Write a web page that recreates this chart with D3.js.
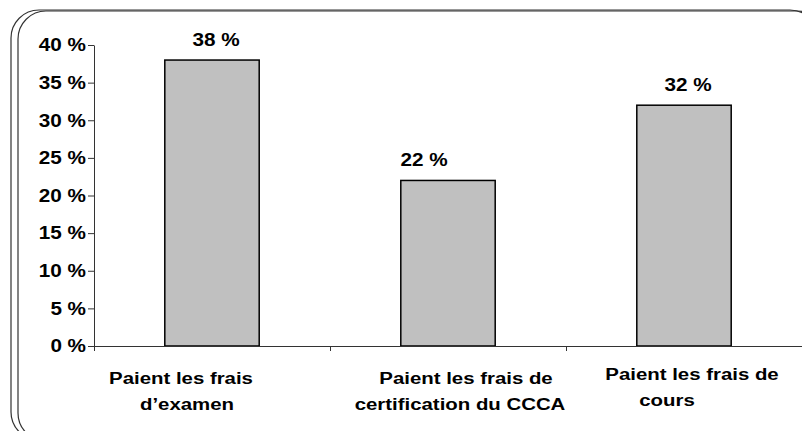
<!DOCTYPE html>
<html>
<head>
<meta charset="utf-8">
<script src="https://cdn.jsdelivr.net/npm/d3@7"></script>
<style>
  body { margin: 0; background: #fff; }
  text { font-family: "Liberation Sans", Arial, sans-serif; font-weight: bold; fill: #000; }
</style>
</head>
<body>
<div id="chart"></div>
<script>
// data
const categories = [
  ["Paient les frais", "d’examen"],
  ["Paient les frais de", "certification du CCCA"],
  ["Paient les frais de", "cours"]
];
const values = [38, 22, 32];
const yTicks = [0, 5, 10, 15, 20, 25, 30, 35, 40];

// small label nudges, as in the original
const catDx = [-31, 18, 8], catDy = [0, 0, -4];
const lineDx = [[0, 6], [0, -6], [0, -25]];
const valDx = [4, -24, 4];

const W = 802, H = 431;
const margin = {top: 45, left: 94, right: 0, bottom: 85};

const svg = d3.select("#chart").append("svg")
  .attr("width", W).attr("height", H);

// frame (double rounded border, clipped by the page)
svg.append("rect").attr("x", 11).attr("y", 10).attr("width", 807).attr("height", 430)
  .attr("rx", 28).attr("fill", "none").attr("stroke", "#333").attr("stroke-width", 1.2);
svg.append("rect").attr("x", 18).attr("y", 11).attr("width", 807).attr("height", 430)
  .attr("rx", 28).attr("fill", "none").attr("stroke", "#333").attr("stroke-width", 1.2);

const x0 = margin.left, x1 = W - margin.right;
const yBottom = 346;

const x = d3.scaleBand().domain(d3.range(values.length)).range([x0, x1])
  .paddingInner(0.6).paddingOuter(0.3);
const xEdge = d3.scaleLinear().domain([0, values.length]).range([x0, x1]);
const y = d3.scaleLinear().domain([0, 40]).range([yBottom, margin.top]);

// bars
svg.append("g").selectAll("rect").data(values).join("rect")
  .attr("x", (d, i) => x(i))
  .attr("y", d => y(d))
  .attr("width", x.bandwidth())
  .attr("height", d => y(0) - y(d))
  .attr("fill", "#c0c0c0")
  .attr("stroke", "#000")
  .attr("stroke-width", 1.5);

// value labels
svg.append("g").selectAll("text").data(values).join("text")
  .attr("text-anchor", "middle")
  .attr("font-size", 18)
  .attr("transform", (d, i) => `translate(${x(i) + x.bandwidth() / 2 + valDx[i]},${y(d) - 14}) scale(1.15,1)`)
  .text(d => d + " %");

// y axis
const yAxis = svg.append("g")
  .attr("transform", `translate(${x0},0)`)
  .call(d3.axisLeft(y).tickValues(yTicks).tickFormat(d => d + " %").tickSize(6).tickSizeOuter(0).tickPadding(2));
yAxis.select(".domain").attr("stroke", "#333");
yAxis.selectAll(".tick line").attr("stroke", "#333");
yAxis.selectAll(".tick text")
  .attr("font-size", 18)
  .attr("font-family", "Liberation Sans, Arial, sans-serif")
  .attr("fill", "#000")
  .attr("x", -8 / 1.15)
  .attr("transform", "scale(1.15,1)");

// x axis (ticks between categories)
const xAxis = svg.append("g")
  .attr("transform", `translate(0,${yBottom})`)
  .call(d3.axisBottom(xEdge).tickValues(d3.range(values.length + 1)).tickFormat("").tickSize(5).tickSizeOuter(0));
xAxis.select(".domain").attr("stroke", "#333");
xAxis.selectAll(".tick line").attr("stroke", "#333");

// category labels
const cat = svg.append("g").selectAll("text").data(categories).join("text")
  .attr("text-anchor", "middle")
  .attr("font-size", 17)
  .attr("transform", (d, i) => `translate(${x(i) + x.bandwidth() / 2 + catDx[i]},${384 + catDy[i]}) scale(1.2,1)`);
cat.selectAll("tspan").data((d, i) => d.map((t, j) => ({t, dx: lineDx[i][j]}))).join("tspan")
  .attr("x", d => d.dx / 1.2)
  .attr("dy", (d, j) => j === 0 ? 0 : 26)
  .text(d => d.t);
</script>
</body>
</html>
